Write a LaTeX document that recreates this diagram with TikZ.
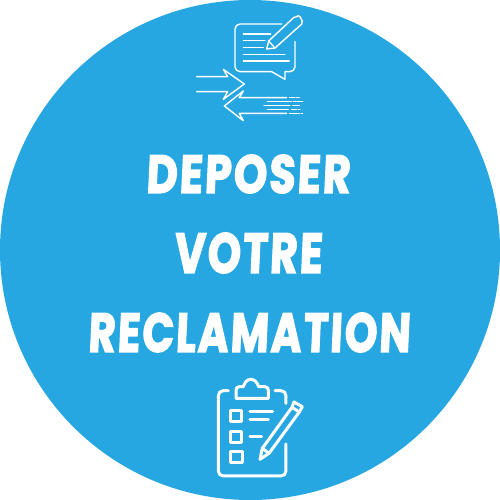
\documentclass[tikz,border=0pt]{standalone}
\usepackage{fontspec}
\setmainfont{Poppins}
\newfontfamily\headfont[FakeBold=3,LetterSpace=5,FakeSlant=0.06]{Poppins}
\tikzset{
  disc/.style={fill=discblue,draw=none},
  headline/.style={text=white,inner sep=0pt,font=\headfont\bfseries},
  thin icon/.style={draw=white,line width=1.2pt,line cap=round,line join=round},
  thick icon/.style={draw=white,line width=3pt,line cap=round,line join=round},
}
\definecolor{discblue}{HTML}{27A7E1}
\begin{document}
\begin{tikzpicture}[x=1pt,y=-1pt]
\useasboundingbox (0,0) rectangle (500,500);
\fill[white] (0,0) rectangle (500,500);
\fill[disc] (250,250) circle[radius=250];
% headline text
\node[headline] (l1) at (248,174) {\resizebox{204pt}{38pt}{DEPOSER}};
\node[headline] (l2) at (248,253) {\resizebox{148pt}{40pt}{VOTRE}};
\node[headline] (l3) at (249,332.5) {\resizebox{322pt}{39pt}{RECLAMATION}};
% top icon: zoom coordinates mapped to the page
\begin{scope}[shift={(180,10)},x=0.3333pt,y=-0.3333pt]
\draw[thin icon,line width=1.4pt] (305,42) -- (180,42) to[out=180,in=90] (165,57) -- (165,170) to[out=-90,in=180] (180,185) -- (275,185) -- (315,208) -- (315,185) -- (330,185) to[out=0,in=-90] (345,170) -- (345,95);
\draw[thin icon,line width=1.4pt] (260,117) -- (266,93) -- (342,22) to[out=-40,in=180] (355,17) to[out=0,in=-90] (367,32) to[out=90,in=-45] (362,45) -- (285,114) -- cycle;
\draw[thin icon] (266,93) -- (285,114);
\foreach \xa/\xb/\yy in {190/272/72,190/255/92,190/250/112,190/315/133,190/328/153}
  \draw[thin icon] (\xa,\yy) -- (\xb,\yy);
\draw[thin icon,line width=1.4pt] (50,200) -- (143,200) -- (130,178) -- (193,222) -- (130,268) -- (143,245) -- (50,245);
\draw[thin icon,line width=1.4pt] (320,263) -- (178,263) -- (190,243) -- (133,288) -- (190,332) -- (178,310) -- (320,310);
\foreach \xa/\xb/\yy in {328/345/263,350/358/263,262/335/275,340/360/275,363/368/275,252/330/287,338/358/287,262/325/299,335/350/299,355/360/299,328/358/311,363/368/311}
  \draw[thin icon] (\xa,\yy) -- (\xb,\yy);
\end{scope}
% bottom icon
\begin{scope}[shift={(200,370)},x=0.3333pt,y=-0.3333pt]
\draw[thick icon] (85,62) -- (70,62) to[out=180,in=90] (55,77) -- (55,303) to[out=-90,in=180] (70,318) -- (243,318) to[out=0,in=-90] (258,303) -- (258,222);
\draw[thick icon] (225,62) -- (243,62) to[out=0,in=90] (258,77) -- (258,100);
\draw[thick icon] (108,85) -- (205,85) -- (205,60) to[out=90,in=0] (195,50) -- (176,50) to[out=110,in=0] (152,28) to[out=180,in=70] (130,50) -- (118,50) to[out=180,in=90] (108,60) -- cycle;
\draw[thick icon] (90,120) rectangle (125,155);
\draw[thick icon] (90,185) rectangle (125,218);
\draw[thick icon] (92,245) rectangle (127,278);
\draw[thick icon] (150,125) -- (218,125);
\draw[thick icon] (150,148) -- (205,148);
\draw[thick icon] (150,200) -- (185,200);
\draw[thick icon] (180,268) -- (187,235) -- (276,112) -- (298,126) -- (207,250) -- cycle;
\draw[thick icon] (187,235) -- (207,250);
\draw[thick icon] (276,112) -- (282,96) -- (307,110) -- (298,126);
\end{scope}
\end{tikzpicture}
\end{document}
